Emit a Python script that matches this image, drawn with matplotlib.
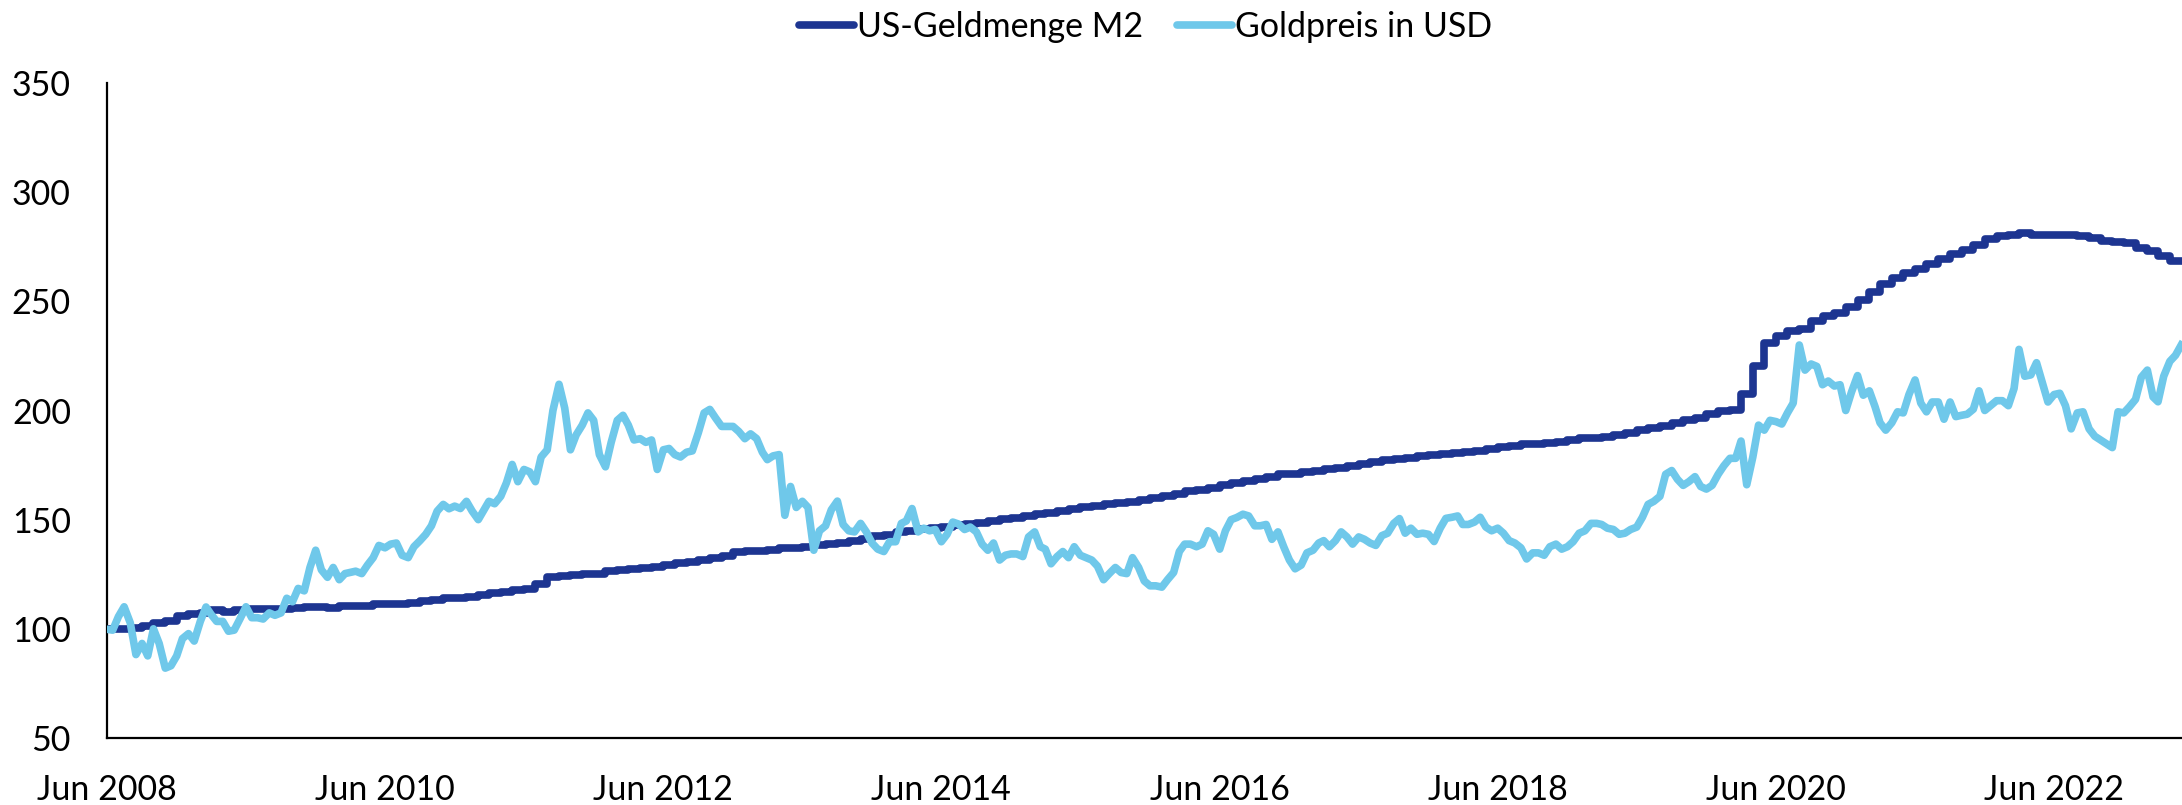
import numpy as np
import pandas as pd
import matplotlib
matplotlib.use("Agg")
import matplotlib.pyplot as plt

# US money supply M2, indexed (Jun 2008 = 100), monthly values
m2_2008 = [100.0, 100.0, 100.3, 101.3, 102.7, 103.8, 106.1]
m2_2009 = [106.9, 107.4, 108.4, 107.9, 108.8, 109.2, 108.9, 108.9, 109.3, 109.7, 110.0, 110.0]
m2_2010 = [109.6, 110.4, 110.4, 110.5, 111.3, 111.3, 111.4, 112.0, 112.8, 113.3, 113.9, 114.1]
m2_2011 = [114.6, 115.5, 116.3, 117.0, 117.6, 118.4, 120.6, 123.7, 124.1, 124.6, 125.3, 125.1]
m2_2012 = [126.4, 126.9, 127.5, 128.0, 128.5, 129.4, 130.2, 130.8, 131.7, 132.6, 133.4, 135.1]
m2_2013 = [135.5, 135.6, 136.3, 136.8, 137.0, 137.7, 138.3, 138.9, 139.5, 140.4, 141.2, 142.4]
m2_2014 = [143.0, 144.2, 144.8, 145.5, 146.0, 146.6, 147.4, 148.1, 148.6, 149.2, 150.1, 150.8]
m2_2015 = [151.8, 152.7, 153.2, 153.9, 154.7, 155.6, 156.3, 157.1, 157.8, 158.3, 159.1, 159.7]
m2_2016 = [160.8, 161.9, 163.0, 163.7, 164.6, 165.8, 166.8, 167.6, 168.7, 169.7, 171.0, 171.0]
m2_2017 = [171.8, 172.4, 173.3, 173.8, 174.6, 175.5, 176.3, 177.2, 178.0, 178.4, 179.1, 179.5]
m2_2018 = [180.1, 180.4, 181.2, 181.6, 182.5, 183.3, 183.8, 184.5, 184.6, 185.0, 185.4, 186.3]
m2_2019 = [187.4, 187.6, 188.0, 188.6, 189.5, 190.9, 192.1, 192.9, 194.2, 195.5, 196.4, 198.4]
m2_2020 = [199.6, 200.1, 207.6, 220.2, 230.8, 234.3, 236.3, 237.4, 240.8, 243.3, 244.8, 247.5]
m2_2021 = [250.6, 254.3, 257.9, 260.9, 263.2, 264.6, 267.2, 269.4, 271.6, 273.3, 275.9, 278.4]
m2_2022 = [279.7, 280.4, 281.1, 280.6, 280.3, 280.3, 280.6, 279.8, 279.0, 277.8, 277.1, 276.7]
m2_2023 = [274.6, 273.2, 270.6, 268.5]

# Gold price in USD, indexed (Jun 2008 = 100), values on the 1st and 16th of each month
gold_2008 = [99.8, 99.4, 105.6, 110.1, 102.8, 88.2, 93.3, 87.6, 100.0, 93.3, 82.0, 83.1, 87.6, 95.5]
gold_2009 = [97.8, 94.4, 103.4, 110.0, 106.7, 103.4, 103.4, 98.9, 99.4, 104.5, 110.1, 105.1,
             105.1, 104.5, 107.3, 106.2, 107.3, 114.0, 112.4, 118.5, 117.4, 128.1, 136.0, 127.0]
gold_2010 = [123.6, 128.1, 122.5, 125.3, 125.8, 126.4, 125.3, 129.2, 132.6, 138.2, 137.1, 138.8,
             139.3, 133.7, 132.6, 137.6, 140.4, 143.3, 147.2, 153.9, 157.0, 155.0, 156.2, 155.1]
gold_2011 = [158.4, 153.9, 150.0, 154.5, 158.4, 157.3, 160.7, 166.9, 175.3, 167.4, 173.0, 171.9,
             167.4, 178.7, 182.0, 200.0, 212.0, 201.1, 182.0, 188.8, 193.3, 198.9, 195.5, 179.8]
gold_2012 = [174.2, 185.4, 195.5, 197.8, 193.3, 186.5, 187.1, 185.4, 186.5, 173.0, 182.0, 182.6,
             179.8, 178.7, 180.9, 181.5, 189.9, 198.9, 200.5, 196.6, 192.7, 192.7, 192.7, 190.4]
gold_2013 = [187.1, 189.3, 187.1, 180.9, 177.5, 179.2, 179.8, 152.0, 165.2, 155.6, 158.4, 155.6,
             136.0, 144.9, 147.2, 154.5, 158.5, 147.8, 144.9, 144.4, 148.3, 144.4, 139.3, 136.5]
gold_2014 = [135.4, 139.9, 139.9, 148.3, 149.4, 155.1, 144.4, 146.1, 144.9, 145.5, 139.9, 143.3,
             148.9, 148.0, 145.5, 146.6, 144.4, 138.8, 136.0, 139.3, 131.5, 133.7, 134.3, 134.3]
gold_2015 = [133.1, 142.1, 144.4, 137.6, 136.5, 129.8, 133.1, 135.4, 132.6, 137.6, 133.7, 132.6,
             131.5, 128.7, 122.5, 125.3, 128.1, 125.8, 125.3, 132.6, 128.1, 121.9, 119.7, 119.7]
gold_2016 = [119.1, 122.5, 125.8, 135.4, 138.8, 138.8, 137.6, 138.8, 144.9, 143.3, 136.5, 144.9,
             150.0, 151.0, 152.5, 151.7, 147.2, 147.2, 147.8, 141.0, 144.4, 137.6, 131.5, 127.5]
gold_2017 = [129.2, 134.8, 136.0, 139.3, 140.4, 137.6, 140.4, 144.4, 142.1, 138.8, 142.1, 141.0,
             139.3, 138.2, 142.7, 143.8, 148.3, 150.5, 143.8, 146.1, 143.3, 143.8, 143.3, 140.0]
gold_2018 = [146.1, 150.6, 151.1, 151.7, 147.8, 147.8, 148.9, 151.1, 146.6, 144.9, 146.1, 143.8,
             140.4, 139.3, 137.1, 132.0, 134.8, 134.8, 133.7, 137.6, 138.8, 136.5, 137.6, 139.9]
gold_2019 = [143.8, 144.9, 148.3, 148.3, 147.8, 146.1, 145.5, 143.3, 143.8, 145.5, 146.6, 151.1,
             157.0, 158.4, 160.7, 170.8, 172.5, 168.5, 165.7, 167.4, 169.7, 165.2, 164.0, 165.7]
gold_2020 = [170.8, 174.7, 178.1, 178.1, 186.0, 166.0, 178.7, 193.3, 191.0, 195.5, 194.9, 193.8,
             198.9, 203.4, 230.0, 218.5, 221.3, 220.2, 211.8, 213.5, 211.2, 211.8, 200.0, 208.4]
gold_2021 = [216.0, 207.0, 209.0, 201.7, 194.4, 191.0, 194.4, 199.4, 198.9, 207.3, 214.0, 203.4,
             199.4, 203.9, 203.9, 196.0, 203.9, 197.2, 197.8, 198.3, 200.6, 209.0, 200.0, 202.2]
gold_2022 = [204.5, 204.5, 202.2, 210.1, 228.0, 215.7, 216.3, 221.9, 212.9, 203.9, 207.3, 207.9,
             202.2, 191.6, 198.9, 199.4, 191.6, 188.2, 186.5, 184.8, 183.0, 199.4, 198.9, 201.7]
gold_2023 = [205.1, 215.2, 218.5, 206.2, 204.0, 215.7, 222.5, 225.3, 230.0]

y_ticks = [50, 100, 150, 200, 250, 300, 350]
x_tick_years = [2008, 2010, 2012, 2014, 2016, 2018, 2020, 2022]

m2 = (m2_2008 + m2_2009 + m2_2010 + m2_2011 + m2_2012 + m2_2013 + m2_2014 + m2_2015
      + m2_2016 + m2_2017 + m2_2018 + m2_2019 + m2_2020 + m2_2021 + m2_2022 + m2_2023)
gold = (gold_2008 + gold_2009 + gold_2010 + gold_2011 + gold_2012 + gold_2013 + gold_2014
        + gold_2015 + gold_2016 + gold_2017 + gold_2018 + gold_2019 + gold_2020 + gold_2021
        + gold_2022 + gold_2023)

m2_dates = pd.date_range("2008-06-01", periods=len(m2), freq="MS")
month_starts = pd.date_range("2008-06-01", "2023-05-01", freq="MS")
gold_dates = sorted(list(month_starts) + list(month_starts[:-1] + pd.Timedelta(days=15)))

x_start = pd.Timestamp("2008-06-01")
x_end = pd.Timestamp("2023-05-03")

plt.rcParams['font.family'] = ['Lato', 'DejaVu Sans']

dark = "#1d3591"
light = "#6fc8ea"

fig = plt.figure(figsize=(21.82, 8.05), dpi=100)
ax = fig.add_axes([107 / 2182, 1 - 738 / 805, 1 - 107 / 2182, (738 - 83) / 805])

ax.step(list(m2_dates) + [x_end], m2 + [m2[-1]], where="post", color=dark, lw=5.5,
        label="US-Geldmenge M2", zorder=2)
ax.plot(gold_dates, gold, color=light, lw=5.5, label="Goldpreis in USD", zorder=3)

ax.set_xlim(x_start, x_end)
ax.set_ylim(50, 350)
ax.set_yticks(y_ticks)
ax.set_xticks([pd.Timestamp(f"{y}-06-01") for y in x_tick_years])
ax.set_xticklabels([f"Jun {y}" for y in x_tick_years])
ax.tick_params(axis="both", length=0, labelsize=24.5)
ax.tick_params(axis="y", pad=26)
ax.tick_params(axis="x", pad=26)

for s in ["top", "right"]:
    ax.spines[s].set_visible(False)
for s in ["left", "bottom"]:
    ax.spines[s].set_linewidth(1.6)
    ax.spines[s].set_color("black")

leg = fig.legend(loc="center", bbox_to_anchor=(0.525, 0.966), ncol=2, frameon=False,
                 fontsize=24.5, handlelength=1.6, handletextpad=0.1, columnspacing=1.0)
for line in leg.get_lines():
    line.set_linewidth(5.5)
    line.set_solid_capstyle("round")

fig.savefig("out.png", dpi=100)
